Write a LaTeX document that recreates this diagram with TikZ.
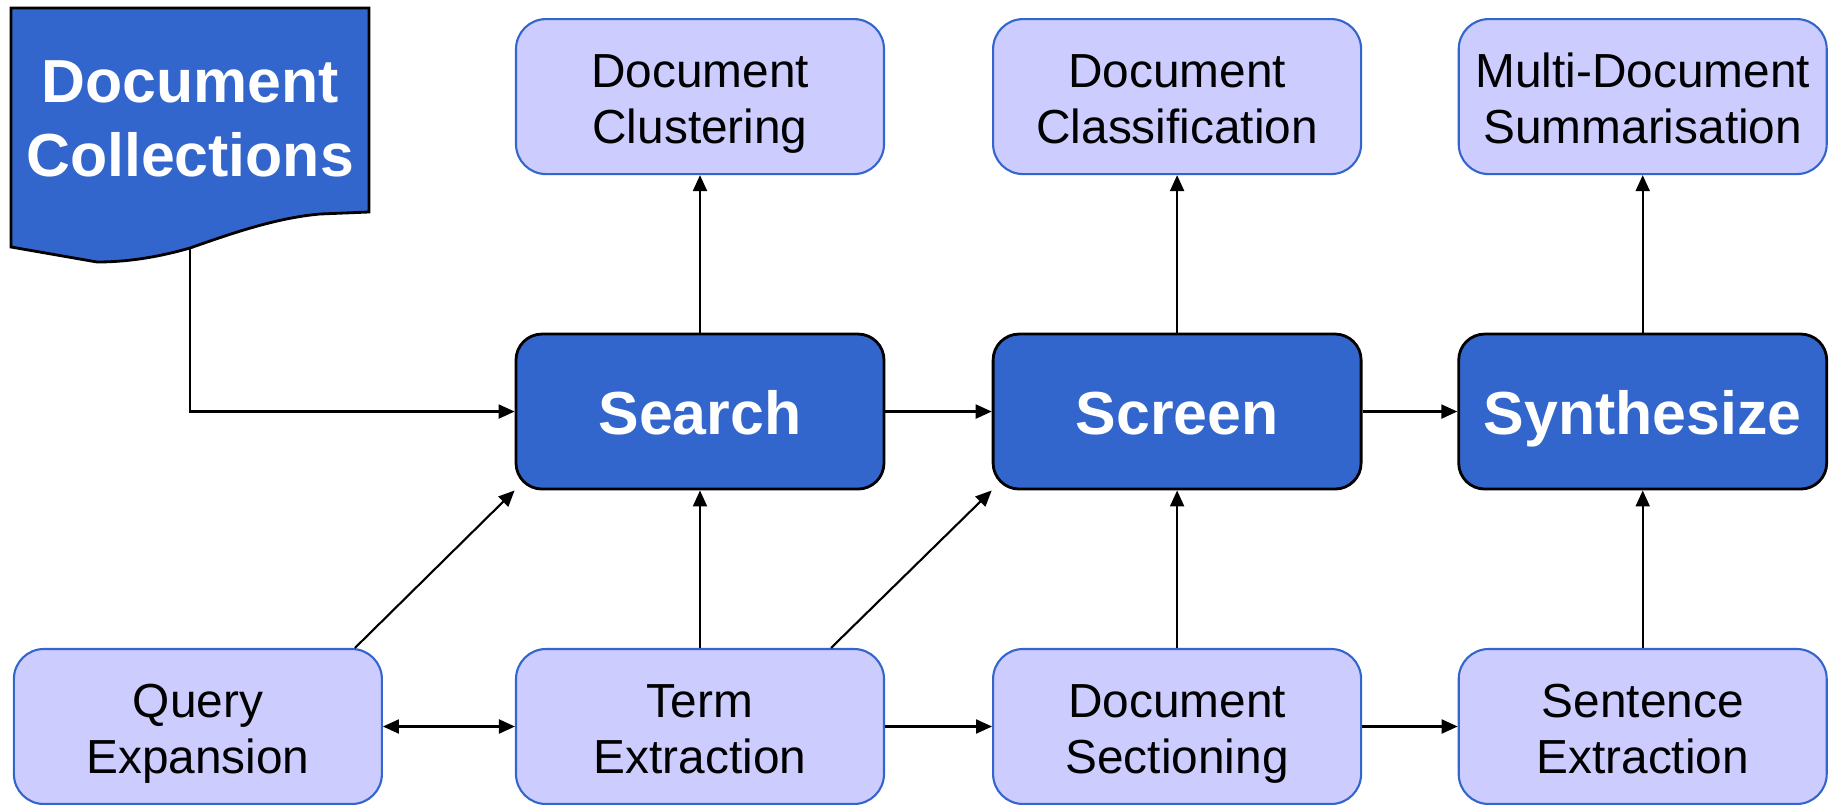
\documentclass[tikz,border=0pt]{standalone}
\usepackage{fontspec}
\setmainfont{Liberation Sans}
\usetikzlibrary{positioning,arrows.meta}

\definecolor{stepblue}{RGB}{51,102,204}
\definecolor{toolblue}{RGB}{204,204,255}

\tikzstyle{stage} = [align=center,draw=black,line width=0.8pt,fill=stepblue,text=white,font=\fontsize{17.3}{21}\selectfont\bfseries,rectangle,rounded corners=0.26cm,minimum width=3.68cm,minimum height=1.55cm,inner sep=0pt,execute at begin node={\rule{0pt}{17.3pt}},execute at end node={\rule[-4.5pt]{0pt}{0pt}}]
\tikzstyle{tool} = [align=center,draw=stepblue,line width=0.6pt,fill=toolblue,text=black,font=\fontsize{13.6}{16}\selectfont,rectangle,rounded corners=0.3cm,minimum width=3.68cm,minimum height=1.55cm,inner sep=0pt,execute at begin node={\rule{0pt}{30.8pt}},execute at end node={\rule[-3.9pt]{0pt}{0pt}}]

\begin{document}
\begin{tikzpicture}[>={Triangle[length=0.16cm,width=0.14cm]},line width=0.6pt]
	\useasboundingbox (0,0) rectangle (18.35,8.04);
	% bottom row
	\node (term) [tool] at (7.00,0.775) {Term\\Extraction};
	\node (query) [tool,left=1.32cm of term] {Query\\Expansion};
	\node (sect) [tool,right=1.07cm of term] {Document\\Sectioning};
	\node (sent) [tool,right=0.955cm of sect] {Sentence\\Extraction};
	% middle row
	\node (search) [stage,above=1.575cm of term] {Search};
	\node (screen) [stage,above=1.575cm of sect] {Screen};
	\node (synth) [stage,above=1.575cm of sent] {Synthesize};
	% top row
	\node (clust) [tool,above=1.575cm of search] {Document\\Clustering};
	\node (class) [tool,above=1.575cm of screen] {Document\\Classification};
	\node (summ) [tool,above=1.575cm of synth] {Multi-Document\\Summarisation};
	% document collections
	\draw [fill=stepblue,line width=0.8pt] (0.11,7.96) -- (3.69,7.96) -- (3.69,5.92) -- (3.20,5.90)
		.. controls (2.75,5.86) and (2.30,5.70) .. (1.90,5.56)
		.. controls (1.55,5.46) and (1.25,5.42) .. (0.97,5.42) -- (0.11,5.57) -- cycle;
	\node (docs) [text=white,align=center,font=\fontsize{17.3}{21}\selectfont\bfseries] at (1.90,6.85) {Document\\Collections};
	\coordinate (docend) at (1.90,5.56);
	\draw [->] (docend) |- (search);
	\draw [->] (search) -- (screen);
	\draw [->] (screen) -- (synth);
	\draw [->] (search) -- (clust);
	\draw [->] (screen) -- (class);
	\draw [->] (synth) -- (summ);
	\draw [->] (term) -- (search);
	\draw [->] (sect) -- (screen);
	\draw [->] (sent) -- (synth);
	\draw [<->] (query) -- (term);
	\draw [->] (term) -- (sect);
	\draw [->] (sect) -- (sent);
	\draw [->] ([xshift=-0.28cm]query.north east) -- (search.south west);
	\draw [->] ([xshift=-0.54cm]term.north east) -- (screen.south west);
\end{tikzpicture}
\end{document}
